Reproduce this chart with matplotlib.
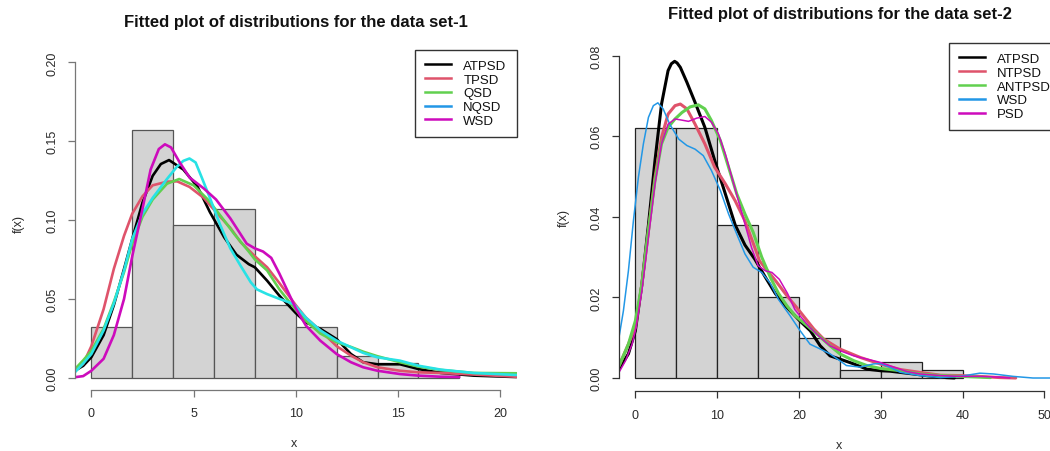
import matplotlib
matplotlib.use('Agg')
import matplotlib.pyplot as plt
from matplotlib.lines import Line2D

plt.rcParams['font.family'] = ['Liberation Sans', 'DejaVu Sans']

# ---------------- data set 1 (left panel) ----------------
title1 = "Fitted plot of distributions for the data set-1"
hist1_left = [0, 2, 4, 6, 8, 10, 12, 14, 16]
hist1_width = 2
hist1_density = [0.032, 0.157, 0.097, 0.107, 0.046, 0.032, 0.014, 0.009, 0.0045]
xticks1 = [0, 5, 10, 15, 20]
yticks1 = [0.00, 0.05, 0.10, 0.15, 0.20]
yticklabels1 = ["0.00", "0.05", "0.10", "0.15", "0.20"]
labels1 = ["ATPSD", "TPSD", "QSD", "NQSD", "WSD"]

atpsd1_x = [-0.8, -0.4, 0, 0.6, 1.1, 1.6, 2.0, 2.5, 3.0, 3.4, 3.8, 4.5, 5.2, 5.8, 6.5,
            7.1, 7.7, 8.0, 8.6, 9.2, 10.0, 10.5, 11.2, 12.0, 12.7, 13.3, 14.0, 15.1,
            16.0, 17.1, 18.7, 20.8]
atpsd1_y = [0.0045, 0.0075, 0.013, 0.027, 0.046, 0.069, 0.088, 0.111, 0.128, 0.1355,
            0.138, 0.132, 0.121, 0.105, 0.089, 0.078, 0.072, 0.070, 0.0615, 0.052,
            0.041, 0.035, 0.031, 0.0245, 0.015, 0.0098, 0.0085, 0.0085, 0.0055, 0.003,
            0.0013, 0.0004]

tpsd1_x = [-0.8, -0.4, 0, 0.6, 1.1, 1.6, 2.0, 2.5, 3.0, 3.7, 4.2, 4.8, 5.5, 6.1, 6.8,
           7.3, 8.0, 8.6, 9.2, 10.0, 10.5, 11.2, 12.0, 12.7, 13.3, 14.0, 15.1, 16.0,
           17.1, 18.7, 20.8]
tpsd1_y = [0.0045, 0.0087, 0.020, 0.0435, 0.069, 0.090, 0.104, 0.115, 0.122, 0.1243,
           0.1245, 0.121, 0.114, 0.105, 0.095, 0.086, 0.077, 0.070, 0.060, 0.046,
           0.038, 0.030, 0.020, 0.014, 0.0098, 0.0066, 0.0044, 0.0034, 0.003, 0.002,
           0.0006]

qsd1_x = [-0.8, -0.4, 0, 0.6, 1.1, 1.6, 2.0, 2.5, 3.0, 3.7, 4.3, 5.0, 5.7, 6.3, 7.0,
          7.7, 8.0, 8.6, 9.2, 10.0, 10.5, 11.2, 12.0, 12.7, 13.3, 14.0, 15.1, 16.0,
          17.1, 18.7, 20.8]
qsd1_y = [0.0055, 0.011, 0.017, 0.031, 0.048, 0.067, 0.085, 0.102, 0.113, 0.123,
          0.126, 0.122, 0.113, 0.103, 0.091, 0.080, 0.075, 0.068, 0.056, 0.043,
          0.036, 0.028, 0.0225, 0.0195, 0.0165, 0.0136, 0.0098, 0.007, 0.0049,
          0.003, 0.0028]

nqsd1_x = [-0.8, -0.4, 0, 0.6, 1.1, 1.6, 2.0, 2.5, 3.0, 3.7, 4.2, 4.5, 4.8, 5.1, 5.4,
           5.8, 6.3, 6.8, 7.3, 7.8, 8.1, 8.6, 9.2, 9.9, 10.5, 11.2, 12.0, 12.7, 13.3,
           14.0, 15.1, 16.0, 17.1, 18.7, 20.8]
nqsd1_y = [0.0035, 0.009, 0.015, 0.030, 0.047, 0.068, 0.088, 0.104, 0.114, 0.126,
           0.134, 0.1375, 0.139, 0.1365, 0.127, 0.114, 0.097, 0.082, 0.071, 0.0605,
           0.056, 0.053, 0.050, 0.0467, 0.038, 0.030, 0.0235, 0.0193, 0.0157,
           0.0129, 0.0108, 0.0076, 0.0051, 0.003, 0.0017]

wsd1_x = [-0.8, -0.4, 0, 0.6, 1.1, 1.6, 2.0, 2.5, 2.9, 3.3, 3.6, 3.9, 4.3, 4.8,
          5.5, 6.1, 6.8, 7.3, 7.6, 8.0, 8.4, 8.8, 9.2, 9.6, 10.0, 10.5, 11.2,
          12.0, 12.7, 13.3, 14.0, 15.1, 16.0, 17.1, 18.0]
wsd1_y = [0.0003, 0.001, 0.0044, 0.012, 0.027, 0.050, 0.077, 0.107, 0.132, 0.145,
          0.148, 0.146, 0.137, 0.127, 0.120, 0.113, 0.101, 0.091, 0.085, 0.082,
          0.080, 0.076, 0.066, 0.055, 0.044, 0.033, 0.0235, 0.015, 0.0098, 0.0066,
          0.0044, 0.0023, 0.0013, 0.0006, 0.0004]

curves1 = [(atpsd1_x, atpsd1_y), (tpsd1_x, tpsd1_y), (qsd1_x, qsd1_y),
           (nqsd1_x, nqsd1_y), (wsd1_x, wsd1_y)]
line_colors1 = ["#000000", "#DF536B", "#61D04F", "#28E2E5", "#CD0BBC"]
legend_colors1 = ["#000000", "#DF536B", "#61D04F", "#2297E6", "#CD0BBC"]

# ---------------- data set 2 (right panel) ----------------
title2 = "Fitted plot of distributions for the data set-2"
hist2_left = [0, 5, 10, 15, 20, 25, 30, 35]
hist2_width = 5
hist2_density = [0.062, 0.062, 0.038, 0.020, 0.010, 0.002, 0.004, 0.002]
xticks2 = [0, 10, 20, 30, 40, 50]
yticks2 = [0.00, 0.02, 0.04, 0.06, 0.08]
yticklabels2 = ["0.00", "0.02", "0.04", "0.06", "0.08"]
labels2 = ["ATPSD", "NTPSD", "ANTPSD", "WSD", "PSD"]

atpsd2_x = [-2, -0.85, 0, 0.8, 1.6, 2.4, 3.2, 4.0, 4.4, 4.8, 5.1, 5.5, 6.3, 7.3,
            8.5, 9.7, 11.0, 12.2, 13.4, 14.6, 15.9, 17.1, 18.3, 19.5, 20.1, 21.4,
            22.6, 23.8, 25.0, 26.7, 28.3, 30.0, 31.1, 34.0, 36.0, 38.0, 39.0]
atpsd2_y = [0.0022, 0.006, 0.0117, 0.0233, 0.038, 0.054, 0.068, 0.0763, 0.078,
            0.0786, 0.0782, 0.0771, 0.0734, 0.0684, 0.0622, 0.054, 0.0457, 0.038,
            0.033, 0.0295, 0.025, 0.021, 0.018, 0.0155, 0.0142, 0.0117, 0.008,
            0.0055, 0.0047, 0.0035, 0.0022, 0.0018, 0.0017, 0.001, 0.0005, 0.0001,
            0.0]

ntpsd2_x = [-2, -0.85, 0, 0.8, 1.6, 2.4, 3.2, 4.0, 4.85, 5.5, 6.3, 7.3, 8.5, 9.7,
            11.0, 12.2, 13.4, 14.6, 15.2, 16.0, 17.2, 18.5, 20.0, 21.8, 23.0, 25.0,
            27.5, 29.9, 32.4, 34.8, 37.3, 39.7, 42.1, 44.6, 46.5]
ntpsd2_y = [0.003, 0.0084, 0.0126, 0.0233, 0.0366, 0.0498, 0.0597, 0.0655, 0.0676,
            0.068, 0.0668, 0.063, 0.0581, 0.0523, 0.0482, 0.044, 0.039, 0.0324,
            0.029, 0.027, 0.024, 0.0205, 0.0168, 0.0122, 0.0097, 0.0072, 0.0051,
            0.0035, 0.0021, 0.0014, 0.0007, 0.0006, 0.0004, 0.0001, 0.0]

antpsd2_x = [-2, -0.85, 0, 0.8, 1.6, 2.4, 3.2, 4.0, 4.85, 5.7, 6.7, 7.7, 8.5, 9.3,
             10.4, 11.4, 12.4, 13.4, 14.4, 15.45, 16.5, 17.5, 18.5, 19.5, 21.0, 22.2,
             23.8, 25.0, 26.7, 28.3, 29.9, 32.4, 34.8, 37.3, 39.7, 43.4]
antpsd2_y = [0.003, 0.0084, 0.0142, 0.0233, 0.0366, 0.049, 0.0581, 0.0622, 0.0643,
             0.0659, 0.0673, 0.0678, 0.0668, 0.0639, 0.0589, 0.0523, 0.0457, 0.0407,
             0.0362, 0.030, 0.025, 0.021, 0.018, 0.0155, 0.013, 0.0109, 0.008, 0.006,
             0.0043, 0.0031, 0.0024, 0.0018, 0.001, 0.0006, 0.0004, 0.0001]

wsd2_x = [-2, -1.46, -0.85, -0.24, 0.37, 0.98, 1.6, 2.2, 2.75, 3.4, 4.2, 5.3, 6.3,
          7.3, 8.3, 9.3, 10.4, 11.4, 12.4, 13.4, 14.4, 15.45, 16.5, 17.5, 18.9,
          20.05, 21.35, 22.6, 23.8, 25.0, 25.8, 27.5, 29.1, 29.9, 31.1, 32.4, 34.8,
          37.3, 39.7, 42.1, 43.8, 46.2, 48.6, 52.0]
wsd2_y = [0.0101, 0.0167, 0.0266, 0.039, 0.0498, 0.0581, 0.0647, 0.0676, 0.0683,
          0.0668, 0.063, 0.0593, 0.0577, 0.0568, 0.0552, 0.0515, 0.0465, 0.0407,
          0.0357, 0.0308, 0.0275, 0.0262, 0.0235, 0.0195, 0.0155, 0.012, 0.0084,
          0.0072, 0.006, 0.0043, 0.0031, 0.0027, 0.0035, 0.0036, 0.0027, 0.0014,
          0.0006, 0.0001, 0.0004, 0.0012, 0.001, 0.0004, 0.0, 0.0]

psd2_x = [-2, -1.2, -0.4, 0, 0.8, 1.6, 2.4, 3.2, 4.0, 4.85, 5.7, 6.5, 7.5, 8.5, 9.3,
          10.15, 11.0, 11.8, 12.6, 13.4, 14.2, 15.0, 15.9, 16.7, 17.6, 18.6, 19.5,
          20.1, 21.35, 22.6, 23.8, 25.0, 26.7, 28.3, 29.9, 31.6, 33.2, 34.8, 37.3,
          39.7, 42.1, 44.6, 45.8]
psd2_y = [0.0014, 0.0043, 0.0084, 0.0117, 0.0217, 0.0349, 0.0481, 0.0581, 0.063,
          0.0643, 0.064, 0.0637, 0.0645, 0.0649, 0.0635, 0.0606, 0.0556, 0.0498,
          0.044, 0.0382, 0.0324, 0.0279, 0.0266, 0.0262, 0.0245, 0.021, 0.017,
          0.0155, 0.0125, 0.0101, 0.008, 0.0068, 0.0055, 0.0047, 0.0039, 0.0027,
          0.0016, 0.001, 0.0006, 0.0004, 0.0004, 0.0002, 0.0]

curves2 = [(atpsd2_x, atpsd2_y), (ntpsd2_x, ntpsd2_y), (antpsd2_x, antpsd2_y),
           (wsd2_x, wsd2_y), (psd2_x, psd2_y)]
line_colors2 = ["#000000", "#DF536B", "#61D04F", "#2297E6", "#CD0BBC"]
line_widths2 = [2.2, 2.2, 2.2, 1.1, 1.1]

# ---------------- figure ----------------
W, H = 1050, 452
fig = plt.figure(figsize=(W / 100, H / 100), dpi=100)

def px_axes(left, top, right, bottom):
    return fig.add_axes([left / W, 1 - bottom / H, (right - left) / W, (bottom - top) / H])

def style_axes(ax, xticks, yticks, yticklabels, axis_color, xlim, ylim, xpad, ypad):
    ax.set_xlim(*xlim)
    ax.set_ylim(*ylim)
    for s in ("top", "right"):
        ax.spines[s].set_visible(False)
    for s in ("left", "bottom"):
        ax.spines[s].set_color(axis_color)
        ax.spines[s].set_linewidth(0.9)
    ax.spines["left"].set_bounds(yticks[0], yticks[-1])
    ax.spines["bottom"].set_bounds(xticks[0], xticks[-1])
    ax.set_xticks(xticks)
    ax.set_xticklabels([str(t) for t in xticks])
    ax.set_yticks(yticks)
    ax.set_yticklabels(yticklabels)
    ax.tick_params(axis="both", length=5, width=0.9, color=axis_color,
                   labelcolor="#2a2a2a", labelsize=9)
    ax.tick_params(axis="x", pad=xpad)
    ax.tick_params(axis="y", pad=ypad)
    for lab in ax.get_yticklabels():
        lab.set_rotation(90)
        lab.set_va("center")
    ax.set_xlabel("x", fontsize=9, color="#2a2a2a", va="center")
    ax.set_ylabel("f(x)", fontsize=9, color="#2a2a2a", va="center")

def add_legend(ax, labels, colors):
    handles = [Line2D([], [], color=c, lw=1.8) for c in colors]
    leg = ax.legend(handles, labels, loc="upper right", bbox_to_anchor=(1, 1),
                    borderaxespad=0, fancybox=False, framealpha=1,
                    edgecolor="#333333", fontsize=9.5, handlelength=2.0,
                    handletextpad=0.9, borderpad=0.75, labelspacing=0.12)
    leg.get_frame().set_linewidth(1.0)
    for t in leg.get_texts():
        t.set_color("#111111")

# left panel
ax1 = px_axes(75, 50.7, 516.5, 391.3)
ax1.bar(hist1_left, hist1_density, width=hist1_width, align="edge",
        color="#D3D3D3", edgecolor="#555555", linewidth=0.9, zorder=1)
for (xs, ys), c in zip(curves1, line_colors1):
    ax1.plot(xs, ys, color=c, lw=1.9, zorder=2, solid_joinstyle="round",
             solid_capstyle="round")
style_axes(ax1, xticks1, yticks1, yticklabels1, "#777777",
           (-0.8, 20.8), (-0.008, 0.208), 7.0, 7.0)
ax1.xaxis.set_label_coords(0.496, -0.155)
ax1.yaxis.set_label_coords(-0.128, 0.49)
add_legend(ax1, labels1, legend_colors1)

# right panel
ax2 = px_axes(619, 43.8, 1060.7, 391.9)
ax2.bar(hist2_left, hist2_density, width=hist2_width, align="edge",
        color="#D3D3D3", edgecolor="#222222", linewidth=0.9, zorder=1)
for (xs, ys), c, lw in zip(curves2, line_colors2, line_widths2):
    ax2.plot(xs, ys, color=c, lw=lw, zorder=2, solid_joinstyle="round",
             solid_capstyle="round")
style_axes(ax2, xticks2, yticks2, yticklabels2, "#333333",
           (-2, 52), (-0.0032, 0.0832), 8.0, 7.0)
ax2.xaxis.set_label_coords(0.498, -0.155)
ax2.yaxis.set_label_coords(-0.126, 0.5)
add_legend(ax2, labels2, line_colors2)

# titles
fig.text(295.7 / W, 1 - 22 / H, title1, ha="center", va="center",
         fontsize=12, fontweight="bold", color="#111111")
fig.text(839.5 / W, 1 - 14 / H, title2, ha="center", va="center",
         fontsize=12, fontweight="bold", color="#111111")

fig.savefig("out.png", dpi=100)
